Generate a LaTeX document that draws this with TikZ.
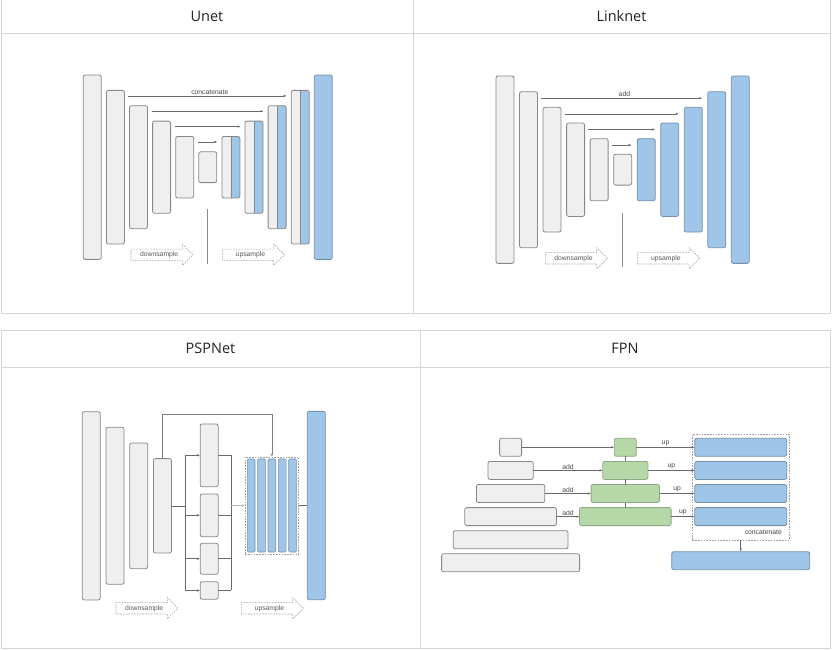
\documentclass[tikz,border=0pt]{standalone}
\usepackage{fontspec}
\setmainfont{Open Sans}
\newfontfamily\lblfont{Liberation Sans}
\usepackage{xcolor}
\usetikzlibrary{positioning,shapes.arrows,arrows.meta,fit}
\definecolor{gridline}{HTML}{D0D7DE}
\definecolor{headtext}{HTML}{1F2328}
\definecolor{blockgray}{HTML}{EFEFEF}
\definecolor{blockedge}{HTML}{888888}
\definecolor{featblue}{HTML}{9FC5E8}
\definecolor{blueedge}{HTML}{7590AA}
\definecolor{featgreen}{HTML}{B6D7A8}
\definecolor{greenedge}{HTML}{8FA886}
\definecolor{linkgray}{HTML}{6A6A6A}
\definecolor{dashgray}{HTML}{A0A0A0}

\begin{document}
\begin{tikzpicture}[
    x=1pt, y=-1pt,
    every node/.style={inner sep=0pt, outer sep=0pt},
    head/.style={font=\fontsize{14.5}{17}\selectfont, text=headtext},
    lbl/.style={font=\lblfont\fontsize{6.8}{8}\selectfont, text=black!72, inner sep=1.2pt},
    enc/.style={draw=blockedge, fill=blockgray, line width=0.8pt, rounded corners=2pt, minimum width=18pt},
    dec/.style={enc, draw=blueedge, fill=featblue},
    fuse/.style={enc, draw=greenedge, fill=featgreen, minimum height=18pt},
    halfblock/.style={enc, path picture={
        \fill[featblue] (path picture bounding box.north) rectangle (path picture bounding box.south east);
        \draw[blockedge, line width=0.6pt] (path picture bounding box.north) -- (path picture bounding box.south);}},
    catbar/.style={dec, line width=0.6pt, rounded corners=1pt, minimum width=7.7pt, minimum height=93pt},
    catbox/.style={draw=dashgray, dash pattern=on 1.6pt off 1.2pt, line width=0.6pt},
    sampler/.style={single arrow, draw=dashgray, dash pattern=on 1.6pt off 1.2pt, line width=0.6pt,
        lbl, text=black!65, single arrow head extend=5pt, minimum height=62pt,
        text height=4.9pt, text depth=1.4pt, inner ysep=2.2pt, inner xsep=2pt},
    skiparrow/.style={-{Latex[length=3pt,width=2.4pt]}, line width=0.6pt, draw=linkgray},
    wire/.style={line width=0.6pt, draw=linkgray},
    divider/.style={line width=0.7pt, draw=black!45},
    tableline/.style={line width=0.9pt, draw=gridline}
  ]
  \fill[white] (0,0) rectangle (834,650);
  \useasboundingbox (0,0) rectangle (834,650);

  % tables
  \draw[tableline] (1,0) -- (1,313) -- (830,313) -- (830,0);
  \draw[tableline] (1,33) -- (830,33);
  \draw[tableline] (413,0) -- (413,313);
  \draw[tableline] (1,330.5) rectangle (830,648);
  \draw[tableline] (1,367) -- (830,367);
  \draw[tableline] (420,330.5) -- (420,648);
  \node[head] (hunet) at (207,16.5) {Unet};
  \node[head] (hlink) at (621.5,16.5) {Linknet};
  \node[head] (hpsp)  at (210.5,348.5) {PSPNet};
  \node[head] (hfpn)  at (625,348.5) {FPN};

  % Unet
  \node[enc, minimum height=184.3pt] (ub1) at (92.3,167.2) {};
  \node[enc, minimum height=153.6pt, right=5.1pt of ub1] (ub2) {};
  \node[enc, minimum height=122.9pt, right=5.1pt of ub2] (ub3) {};
  \node[enc, minimum height=92.2pt,  right=5.1pt of ub3] (ub4) {};
  \node[enc, minimum height=61.5pt,  right=5.1pt of ub4] (ub5) {};
  \node[enc, minimum height=30.8pt,  right=5.1pt of ub5] (ub6) {};
  \node[halfblock, minimum height=61.5pt,  right=5.1pt of ub6] (uu1) {};
  \node[halfblock, minimum height=92.2pt,  right=5.1pt of uu1] (uu2) {};
  \node[halfblock, minimum height=122.9pt, right=5.1pt of uu2] (uu3) {};
  \node[halfblock, minimum height=153.6pt, right=5.1pt of uu3] (uu4) {};
  \node[dec, minimum height=184.3pt, right=5.1pt of uu4] (uout) {};
  \coordinate (us1) at ([xshift=4pt,yshift=-5.5pt]ub2.north east);
  \coordinate (us2) at ([xshift=4pt,yshift=-5.5pt]ub3.north east);
  \coordinate (us3) at ([xshift=4pt,yshift=-5.5pt]ub4.north east);
  \coordinate (us4) at ([xshift=4pt,yshift=-5.5pt]ub5.north east);
  \draw[skiparrow, shorten >=4.5pt] (us1) -- node[lbl, above] (ucat) {concatenate} (us1 -| uu4.west);
  \draw[skiparrow, shorten >=4.5pt] (us2) -- (us2 -| uu3.west);
  \draw[skiparrow, shorten >=4.5pt] (us3) -- (us3 -| uu2.west);
  \draw[skiparrow, shorten >=4.5pt] (us4) -- (us4 -| uu1.west);
  \draw[divider] ([yshift=-26.4pt]ub6.south) -- ++(0,54.6);
  \node[sampler, anchor=tail] (udown) at (131,254.7) {downsample};
  \node[sampler, anchor=tail] (uup) at (222.3,254.7) {upsample};

  % Linknet
  \node[enc, minimum height=187.3pt] (lb1) at (505,169.7) {};
  \node[enc, minimum height=156pt,   right=5.53pt of lb1] (lb2) {};
  \node[enc, minimum height=124.7pt, right=5.53pt of lb2] (lb3) {};
  \node[enc, minimum height=93.4pt,  right=5.53pt of lb3] (lb4) {};
  \node[enc, minimum height=62.1pt,  right=5.53pt of lb4] (lb5) {};
  \node[enc, minimum height=30.8pt,  right=5.53pt of lb5] (lb6) {};
  \node[dec, minimum height=62.1pt,  right=5.53pt of lb6] (lu1) {};
  \node[dec, minimum height=93.4pt,  right=5.53pt of lu1] (lu2) {};
  \node[dec, minimum height=124.7pt, right=5.53pt of lu2] (lu3) {};
  \node[dec, minimum height=156pt,   right=5.53pt of lu3] (lu4) {};
  \node[dec, minimum height=187.3pt, right=5.53pt of lu4] (lout) {};
  \coordinate (ls1) at ([xshift=3.5pt,yshift=-6.5pt]lb2.north east);
  \coordinate (ls2) at ([xshift=3.5pt,yshift=-6.5pt]lb3.north east);
  \coordinate (ls3) at ([xshift=3.5pt,yshift=-6.5pt]lb4.north east);
  \coordinate (ls4) at ([xshift=3.5pt,yshift=-6.5pt]lb5.north east);
  \draw[skiparrow, shorten >=5.5pt] (ls1) -- node[lbl, above] (ladd) {add} (ls1 -| lu4.west);
  \draw[skiparrow, shorten >=5.5pt] (ls2) -- (ls2 -| lu3.west);
  \draw[skiparrow, shorten >=5.5pt] (ls3) -- (ls3 -| lu2.west);
  \draw[skiparrow, shorten >=5.5pt] (ls4) -- (ls4 -| lu1.west);
  \draw[divider] ([yshift=-27.7pt]lb6.south) -- ++(0,54.6);
  \node[sampler, anchor=tail] (ldown) at (545.3,258.3) {downsample};
  \node[sampler, anchor=tail] (lup) at (637.7,258.3) {upsample};

  % PSPNet
  \node[enc, minimum height=188.3pt] (pb1) at (91.3,505.8) {};
  \node[enc, minimum height=157pt,   right=5.7pt of pb1] (pb2) {};
  \node[enc, minimum height=125.7pt, right=5.7pt of pb2] (pb3) {};
  \node[enc, minimum height=94.4pt,  right=5.7pt of pb3] (pb4) {};
  \node[enc, minimum height=62.7pt] (pp1) at (209.15,455.3) {};
  \node[enc, minimum height=42.7pt, below=7.3pt of pp1] (pp2) {};
  \node[enc, minimum height=31pt,   below=6.6pt of pp2] (pp3) {};
  \node[enc, minimum height=17.6pt, below=7.4pt of pp3] (pp4) {};
  \node[catbar] (pc1) at (251.15,505.5) {};
  \node[catbar, right=2.65pt of pc1] (pc2) {};
  \node[catbar, right=2.65pt of pc2] (pc3) {};
  \node[catbar, right=2.65pt of pc3] (pc4) {};
  \node[catbar, right=2.65pt of pc4] (pc5) {};
  \node[catbox, fit=(pc1)(pc5), inner sep=2.2pt] (pcat) {};
  \node[dec, minimum height=188.3pt, right=8.7pt of pcat] (pout) {};
  \coordinate (psplit) at ([xshift=14pt]pb4.east);
  \coordinate (pjoin) at ([xshift=12.7pt]pp1.east);
  \coordinate (ptop) at ([yshift=44.3pt]pb4.north);
  \draw[wire] (pb4.east) -- (psplit);
  \draw[wire] (psplit |- pp1.west) -- (psplit |- pp4.west);
  \draw[skiparrow] (psplit |- pp1.west) -- (pp1.west);
  \draw[skiparrow] (psplit |- pp2.west) -- (pp2.west);
  \draw[skiparrow] (psplit |- pp3.west) -- (pp3.west);
  \draw[skiparrow] (psplit |- pp4.west) -- (pp4.west);
  \draw[wire] (pp1.east) -- (pjoin |- pp1.east);
  \draw[wire] (pp2.east) -- (pjoin |- pp2.east);
  \draw[wire] (pp3.east) -- (pjoin |- pp3.east);
  \draw[wire] (pp4.east) -- (pjoin |- pp4.east);
  \draw[wire] (pjoin |- pp1.east) -- (pjoin |- pp4.east);
  \draw[skiparrow, draw=black!30] (pjoin |- pcat.west) -- (pcat.west);
  \draw[skiparrow, draw=black!50] (pb4.north) -- (ptop) -| (pc3.north |- pcat.north);
  \draw[wire] (pcat.east) -- (pout.west);
  \node[sampler, anchor=tail] (pdown) at (116,608.3) {downsample};
  \node[sampler, anchor=tail] (pup) at (241.3,608.3) {upsample};

  % FPN
  \node[enc, minimum height=18pt, minimum width=22pt] (fb1) at (510.6,447.3) {};
  \node[enc, minimum height=18pt, minimum width=45.2pt,  below=5.1pt of fb1] (fb2) {};
  \node[enc, minimum height=18pt, minimum width=68.4pt,  below=5.1pt of fb2] (fb3) {};
  \node[enc, minimum height=18pt, minimum width=91.6pt,  below=5.1pt of fb3] (fb4) {};
  \node[enc, minimum height=18pt, minimum width=114.8pt, below=5.1pt of fb4] (fb5) {};
  \node[enc, minimum height=18pt, minimum width=138pt,   below=5.1pt of fb5] (fb6) {};
  \node[fuse, minimum width=22pt] (fg1) at (625.3,447.3) {};
  \node[fuse, minimum width=45.2pt, below=5.1pt of fg1] (fg2) {};
  \node[fuse, minimum width=68.4pt, below=5.1pt of fg2] (fg3) {};
  \node[fuse, minimum width=91.6pt, below=5.1pt of fg3] (fg4) {};
  \node[dec, minimum height=18pt, minimum width=92pt] (fu1) at (740.7,447.3) {};
  \node[dec, minimum height=18pt, minimum width=92pt, below=5.1pt of fu1] (fu2) {};
  \node[dec, minimum height=18pt, minimum width=92pt, below=5.1pt of fu2] (fu3) {};
  \node[dec, minimum height=18pt, minimum width=92pt, below=5.1pt of fu3] (fu4) {};
  \node[lbl, anchor=north east] (fcatlbl) at ([xshift=-3.7pt,yshift=-3.5pt]fu4.south east) {concatenate};
  \node[catbox, fit=(fu1)(fu4)(fcatlbl), inner xsep=2.4pt, inner ysep=4pt] (fcat) {};
  \node[dec, minimum height=18pt, minimum width=138pt, below=11.7pt of fcat] (fout) {};
  \draw[skiparrow] (fb1) -- (fg1);
  \draw[skiparrow] (fb2) -- node[lbl, above] (fadd2) {add} (fg2);
  \draw[skiparrow] (fb3) -- node[lbl, above] (fadd3) {add} (fg3);
  \draw[skiparrow] (fb4) -- node[lbl, above] (fadd4) {add} (fg4);
  \draw[wire] (fg1) -- (fg2);
  \draw[wire] (fg2) -- (fg3);
  \draw[wire] (fg3) -- (fg4);
  \draw[skiparrow] (fg1) -- node[lbl, above] (fup1) {up} (fu1);
  \draw[skiparrow] (fg2) -- node[lbl, above] (fup2) {up} (fu2);
  \draw[skiparrow] (fg3) -- node[lbl, above] (fup3) {up} (fu3);
  \draw[skiparrow] (fg4) -- node[lbl, above] (fup4) {up} (fu4);
  \draw[skiparrow] (fcat) -- (fout);
\end{tikzpicture}
\end{document}
